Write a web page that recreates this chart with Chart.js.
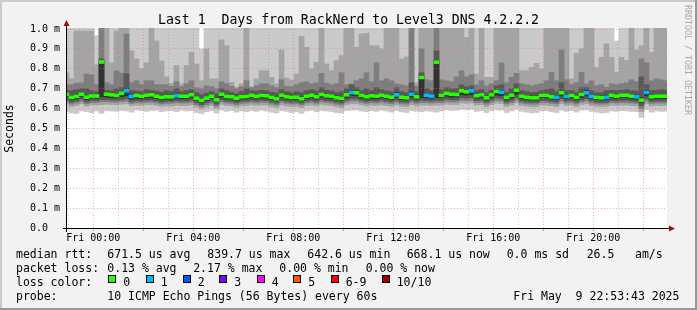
<!DOCTYPE html>
<html>
<head>
<meta charset="utf-8">
<script src="https://cdn.jsdelivr.net/npm/chart.js@4.4.1/dist/chart.umd.min.js"></script>
<style>
html,body{margin:0;padding:0;background:#f2f2f2;}
#wrap{position:relative;width:697px;height:310px;background:#f2f2f2;overflow:hidden;}
#c{position:absolute;left:0;top:0;}
.tx{position:absolute;font-family:'DejaVu Sans Mono',monospace;font-size:11.5px;line-height:11.5px;white-space:pre;color:#000;}
#title{position:absolute;left:0;width:697px;top:12.8px;text-align:center;font-family:'DejaVu Sans Mono',monospace;font-size:13.2px;line-height:13.2px;white-space:pre;color:#000;}
#rrd{position:absolute;left:683px;top:5px;writing-mode:vertical-rl;font-family:'DejaVu Sans Mono',monospace;font-size:8.3px;line-height:9px;color:#a8a8a8;white-space:pre;}
.box{position:absolute;width:6px;height:6px;border:1px solid #000;}
.bt{position:absolute;left:0;top:0;width:697px;height:2px;background:#cbcbcb;}
.bl{position:absolute;left:0;top:0;width:2px;height:310px;background:#cbcbcb;}
.bb{position:absolute;left:0;top:308px;width:697px;height:2px;background:#999;}
.br{position:absolute;left:695px;top:0;width:2px;height:310px;background:#999;}
</style>
</head>
<body>
<div id="wrap">
<canvas id="c" width="697" height="310"></canvas>
<div id="title">Last 1  Days from RackNerd to Level3 DNS 4.2.2.2</div>
<div id="rrd">RRDTOOL / TOBI OETIKER</div>
<div id="legend"></div>
<div class="bt"></div><div class="bl"></div><div class="bb"></div><div class="br"></div>
</div>
<script>
// ---- data (values in microseconds; one column per 12-minute RRD step) ----
const firstColHour = -1.072;   // centre of first column, hours relative to Fri 00:00
const colStepHours = 0.2;      // 720 s consolidation step

const median = [
 672,657,662,673,658,664,664,835,673,670,
 667,678,690,662,667,663,668,670,663,657,
 660,660,665,663,663,670,653,642,653,663,
 645,673,662,660,653,660,662,668,662,667,
 665,657,650,668,660,657,658,650,663,668,
 660,672,665,663,655,652,670,682,680,667,
 660,665,663,668,663,658,670,658,655,673,
 660,757,668,663,834,667,678,673,672,690,
 685,690,665,670,655,670,687,683,657,668,
 693,663,658,655,655,667,667,660,657,680,
 662,667,657,672,680,662,657,655,657,668,
 663,668,668,663,660,643,682,660,663,663,
 663];

const lossCount = [
 0,0,0,0,0,0,0,0,0,0,
 0,0,1,1,0,0,0,0,0,0,
 0,0,1,0,0,0,0,0,0,0,
 0,0,0,0,0,0,0,0,0,0,
 0,0,0,0,0,0,0,0,0,0,
 0,0,0,0,0,0,0,1,0,0,
 0,0,0,0,0,0,1,0,0,1,
 0,0,1,1,0,0,0,0,0,0,
 0,1,0,0,0,0,0,1,0,0,
 0,0,0,0,0,0,0,0,1,0,
 1,0,0,0,1,1,0,0,1,0,
 0,0,0,0,1,0,1,0,0,0,
 0];

// sorted ping ranks (p1 fastest ... p10 slowest)
const ping10 = [
 1050,1050,1050,1050,1050,1050,966,1050,1050,1050,
 1050,1050,1050,1050,1050,1050,1050,1050,1050,1050,
 1050,1050,1050,1050,1050,1050,1050,900,1050,1050,
 1050,1050,1050,1050,1050,1050,1050,1050,1050,1050,
 1050,1050,1050,1050,1050,1050,1050,1050,1050,1050,
 1050,1050,1050,1050,1050,1050,1050,1050,1050,1050,
 1050,1050,1050,1050,1050,1050,1050,1050,1050,1050,
 1050,1050,1050,1050,1050,1050,1050,1050,1050,1050,
 1050,1050,1050,1050,1050,1050,1050,1050,1050,1050,
 1050,1050,1050,1050,1050,1050,1050,1050,1050,1050,
 1050,1050,1050,1050,1050,1050,1050,1050,1050,1050,
 940,1050,1050,1050,1050,1050,1050,1050,1050,1050,
 1050];

const ping9 = [
 780,750,990,990,990,990,820,1050,1050,830,
 990,1050,1050,890,850,800,830,1050,940,840,
 760,727,816,724,816,883,824,740,900,749,
 749,945,916,732,707,724,1050,710,749,791,
 791,757,724,895,754,744,774,963,908,799,
 833,1050,824,791,841,866,1050,1050,908,975,
 978,916,916,900,1050,1050,1050,849,860,1050,
 730,1050,1050,1050,1050,1050,1050,1050,1050,1050,
 958,1050,774,1050,757,757,1050,1050,1050,1050,
 1050,791,791,807,827,799,1050,1050,1050,1050,
 1050,749,878,900,1050,1050,807,858,925,858,
 782,858,841,1050,895,916,1050,883,1050,1050,
 1050];

const ping8 = [
 720,720,727,730,774,770,720,1050,730,720,
 790,778,975,730,740,720,740,740,720,720,
 720,712,735,710,725,740,705,700,715,710,
 700,735,725,712,700,710,740,705,715,725,
 725,715,705,745,712,710,720,730,735,725,
 730,777,728,720,725,780,720,724,740,750,
 780,735,830,740,750,740,724,720,715,1050,
 712,900,745,740,1050,745,740,735,760,790,
 760,770,720,740,715,725,740,830,730,757,
 777,725,720,715,720,725,740,782,740,895,
 745,720,730,782,724,740,715,720,707,725,
 720,725,730,745,735,850,830,740,750,745,
 740];

const ping7 = [
 692,690,695,700,700,690,685,850,692,690,
 700,705,775,690,688,685,695,690,688,682,
 690,685,700,685,690,695,680,670,678,685,
 675,700,690,682,675,685,700,690,688,692,
 690,682,678,695,685,680,685,680,690,695,
 688,705,692,688,680,685,700,720,705,690,
 700,690,705,695,688,685,705,685,680,730,
 685,780,700,690,890,695,705,700,702,720,
 710,715,690,695,680,692,715,720,682,700,
 725,690,685,680,682,690,695,700,685,730,
 690,690,682,705,705,690,680,680,690,692,
 690,692,695,690,688,760,720,690,692,695,
 692];

const ping6 = [
 680,666,670,680,667,672,672,842,681,678,
 676,686,700,672,675,671,676,678,671,666,
 668,668,674,671,672,678,662,652,662,671,
 655,681,670,668,662,668,672,676,670,675,
 673,665,659,676,668,665,667,659,671,676,
 668,680,673,671,664,661,678,692,688,675,
 668,673,671,676,671,666,680,666,663,684,
 668,765,677,672,842,675,686,681,680,698,
 693,699,673,678,663,678,695,692,665,676,
 701,671,666,663,663,675,675,668,666,688,
 671,675,665,680,690,671,665,663,666,676,
 671,676,676,671,669,655,692,668,671,671,
 671];

const ping5 = [
 660,645,650,660,645,652,652,660,658,656,
 654,660,665,648,652,650,654,655,650,645,
 648,648,652,650,650,655,642,632,642,650,
 635,658,650,648,642,648,650,654,650,654,
 652,645,640,654,648,645,646,640,650,654,
 648,658,652,650,644,641,656,665,664,654,
 648,652,650,655,650,646,655,646,644,658,
 648,655,654,650,655,654,662,658,658,670,
 667,670,652,656,644,656,668,665,645,654,
 672,650,646,644,644,654,654,648,645,664,
 650,654,645,657,664,650,645,644,645,654,
 650,654,654,650,648,632,664,648,650,650,
 650];

const ping4 = [
 648,632,638,648,634,640,640,645,646,644,
 642,646,650,636,640,638,642,643,638,633,
 636,636,640,638,638,642,630,620,630,638,
 622,645,638,636,630,636,638,642,638,642,
 640,633,628,642,636,633,634,628,638,642,
 636,645,640,638,632,628,643,650,650,642,
 636,640,638,642,638,634,642,634,632,644,
 636,642,641,638,642,641,648,645,645,655,
 652,655,640,643,632,643,654,651,633,641,
 656,638,634,632,632,641,641,636,633,650,
 638,641,633,644,650,638,633,632,633,641,
 638,641,641,638,636,615,650,636,638,638,
 638];

const ping3 = [
 638,622,628,637,624,630,630,634,635,633,
 632,635,638,626,630,628,632,632,628,623,
 626,626,630,628,628,632,620,610,620,628,
 612,634,628,626,620,626,628,632,628,631,
 630,623,618,632,626,623,624,618,628,631,
 626,634,630,628,622,618,632,638,638,631,
 626,630,628,632,628,624,631,624,622,633,
 626,630,630,628,630,630,636,634,634,642,
 640,642,630,632,622,632,641,639,623,630,
 643,628,624,622,622,630,630,626,623,638,
 628,630,623,633,638,628,623,622,623,630,
 628,630,630,628,626,600,638,626,628,628,
 628];

const ping2 = [
 625,610,615,624,612,618,617,620,622,620,
 619,622,624,614,617,615,619,619,615,611,
 613,613,617,615,615,619,607,598,607,615,
 600,621,615,613,607,613,615,619,615,618,
 617,610,605,619,613,610,611,605,615,618,
 613,621,617,615,609,605,619,624,624,618,
 613,617,615,619,615,611,618,611,609,620,
 613,617,617,615,617,617,622,620,620,628,
 626,628,617,619,609,619,627,625,610,617,
 629,615,611,609,609,617,617,613,610,624,
 615,617,610,620,624,615,610,609,610,617,
 615,617,617,615,613,585,624,613,615,615,
 615];

const ping1 = [
 585,578,575,588,585,580,588,576,590,588,
 586,590,588,582,592,590,586,590,592,585,
 588,590,585,592,588,590,580,575,584,590,
 578,592,586,590,582,588,584,590,586,592,
 588,582,578,590,586,580,584,576,588,592,
 584,590,588,585,580,578,590,592,594,588,
 585,590,586,592,588,582,590,584,580,590,
 586,584,588,586,582,588,594,590,592,596,
 594,596,586,590,580,590,594,592,580,588,
 596,586,582,578,580,588,590,584,580,592,
 586,590,582,592,594,586,582,578,580,588,
 586,590,588,586,584,555,594,582,588,586,
 586];

// axis / tick labels
const yTickValues = [0,100,200,300,400,500,600,700,800,900,1000];
const yTickLabels = ['0.0  ','0.1 m','0.2 m','0.3 m','0.4 m','0.5 m','0.6 m','0.7 m','0.8 m','0.9 m','1.0 m'];
const gridHours = [-1,0,1,2,3,4,5,6,7,8,9,10,11,12,13,14,15,16,17,18,19,20,21,22];
const xLabelHours = [0,4,8,12,16,20];
const xLabels = ['Fri 00:00','Fri 04:00','Fri 08:00','Fri 12:00','Fri 16:00','Fri 20:00'];

// loss legend
const lossLabels = ['0','1','2','3','4','5','6-9','10/10'];
const lossColors = ['#26ff00','#00b8ff','#0059ff','#7e00ff','#ff00ff','#ff5500','#ff0000','#a10000'];
const smokeColors = ['#cacaca','#a4a4a4','#7e7e7e','#585858','#323232'];

// ---- build datasets ----
const colHours = median.map((_, i) => firstColHour + colStepHours * i);
function band(lo, hi) { return colHours.map((t, i) => ({x: t, y: [lo[i], hi[i]]})); }
const clipOpt = {left: 0, top: 1, right: 0, bottom: 0};
const common = {borderWidth: 0, barPercentage: 1, categoryPercentage: 1, grouped: false, clip: clipOpt};
const datasets = [
  Object.assign({data: band(ping1, ping10), backgroundColor: smokeColors[0], order: 5}, common),
  Object.assign({data: band(ping2, ping9), backgroundColor: smokeColors[1], order: 4}, common),
  Object.assign({data: band(ping3, ping8), backgroundColor: smokeColors[2], order: 3}, common),
  Object.assign({data: band(ping4, ping7), backgroundColor: smokeColors[3], order: 2}, common),
  Object.assign({data: band(ping5, ping6), backgroundColor: smokeColors[4], order: 1}, common),
  Object.assign({
    data: colHours.map((t, i) => ({x: t, y: [median[i] - 8, median[i] + 7]})),
    backgroundColor: lossCount.map(l => lossColors[l]), order: 0}, common)
];

const MONO = 'DejaVu Sans Mono';
const frame = {
  id: 'frame',
  beforeDraw(chart) {
    const {ctx, chartArea: a} = chart;
    ctx.save();
    ctx.fillStyle = '#ffffff';
    ctx.fillRect(a.left, a.top - 1, a.right - a.left, a.bottom - a.top + 1);
    ctx.restore();
  },
  afterDraw(chart) {
    const {ctx, chartArea: a} = chart;
    ctx.save();
    ctx.strokeStyle = '#000';
    ctx.lineWidth = 1;
    ctx.beginPath();
    ctx.moveTo(a.left - 4, a.bottom + 0.5);
    ctx.lineTo(a.right + 3, a.bottom + 0.5);
    ctx.moveTo(a.left - 0.5, a.bottom + 4);
    ctx.lineTo(a.left - 0.5, a.top - 4);
    ctx.stroke();
    ctx.fillStyle = '#9b1010';
    ctx.beginPath();
    ctx.moveTo(a.right + 8, a.bottom + 0.5);
    ctx.lineTo(a.right + 2, a.bottom - 2.5);
    ctx.lineTo(a.right + 2, a.bottom + 3.5);
    ctx.closePath();
    ctx.fill();
    ctx.beginPath();
    ctx.moveTo(a.left - 0.5, a.top - 9);
    ctx.lineTo(a.left - 3.5, a.top - 3);
    ctx.lineTo(a.left + 2.5, a.top - 3);
    ctx.closePath();
    ctx.fill();
    ctx.restore();
  }
};

new Chart(document.getElementById('c'), {
  type: 'bar',
  data: {datasets},
  options: {
    responsive: false,
    animation: false,
    events: [],
    layout: {padding: {left: 0, top: 29, right: 30, bottom: 64}},
    plugins: {legend: {display: false}, tooltip: {enabled: false}, title: {display: false}},
    scales: {
      x: {
        type: 'linear', min: -1.052, max: 22.948, offset: false,
        afterBuildTicks: s => { s.ticks = gridHours.map(v => ({value: v})); },
        afterFit: s => { s.height = 18; },
        grid: {
          offset: false, z: 1, lineWidth: 1, drawTicks: true, tickLength: 3,
          color: c => (c.tick && c.tick.value % 2 === 0) ? 'rgba(235,110,110,0.55)' : 'rgba(140,140,140,0.45)',
          tickColor: c => (c.tick && c.tick.value % 2 === 0) ? 'rgba(235,110,110,0.8)' : 'rgba(0,0,0,0)',
          tickBorderDash: []
        },
        border: {display: false, dash: [1, 2]},
        ticks: {
          autoSkip: false, maxRotation: 0, minRotation: 0, padding: 1,
          color: '#000', font: {family: MONO, size: 10},
          callback: v => { const i = xLabelHours.indexOf(v); return i >= 0 ? xLabels[i] : ''; }
        }
      },
      y: {
        type: 'linear', min: 0, max: 1000,
        afterBuildTicks: s => { s.ticks = yTickValues.map(v => ({value: v})); },
        afterFit: s => { s.width = 67; },
        grid: {z: 1, lineWidth: 1, drawTicks: false, color: 'rgba(235,110,110,0.55)'},
        border: {display: false, dash: [1, 2]},
        ticks: {
          padding: 7, color: '#000', font: {family: MONO, size: 10},
          callback: v => { const i = yTickValues.indexOf(v); return i >= 0 ? yTickLabels[i] : ''; }
        },
        title: {display: true, text: 'Seconds', color: '#000', font: {family: MONO, size: 11.5}, padding: {top: 3, bottom: 0}}
      }
    }
  },
  plugins: [frame]
});

// ---- legend text ----
const legendItems = [
  [16, 248.5, 'median rtt:'], [107.3, 248.5, '671.5 us avg'], [207.3, 248.5, '839.7 us max'],
  [307.3, 248.5, '642.6 us min'], [406.7, 248.5, '668.1 us now'], [506.7, 248.5, '0.0 ms sd'],
  [586.7, 248.5, '26.5'], [635, 248.5, 'am/s'],
  [16, 262.5, 'packet loss:'], [107.3, 262.5, '0.13 % avg'], [193.2, 262.5, '2.17 % max'],
  [279.3, 262.5, '0.00 % min'], [365.7, 262.5, '0.00 % now'],
  [16, 276.5, 'loss color:'],
  [16, 290.5, 'probe:'], [107.3, 290.5, '10 ICMP Echo Pings (56 Bytes) every 60s'],
  [513.3, 290.5, 'Fri May  9 22:53:43 2025']
];
const boxX = [108.3, 145.7, 182.7, 219.3, 256.7, 293.3, 330.7, 381.7];
const lg = document.getElementById('legend');
legendItems.forEach(([x, y, t]) => {
  const d = document.createElement('div');
  d.className = 'tx'; d.style.left = x + 'px'; d.style.top = y + 'px'; d.textContent = t;
  lg.appendChild(d);
});
lossLabels.forEach((t, i) => {
  const b = document.createElement('div');
  b.className = 'box'; b.style.left = boxX[i] + 'px'; b.style.top = '274.5px';
  b.style.background = lossColors[i];
  lg.appendChild(b);
  const d = document.createElement('div');
  d.className = 'tx'; d.style.left = (boxX[i] + 15) + 'px'; d.style.top = '276.5px'; d.textContent = t;
  lg.appendChild(d);
});
</script>
</body>
</html>
